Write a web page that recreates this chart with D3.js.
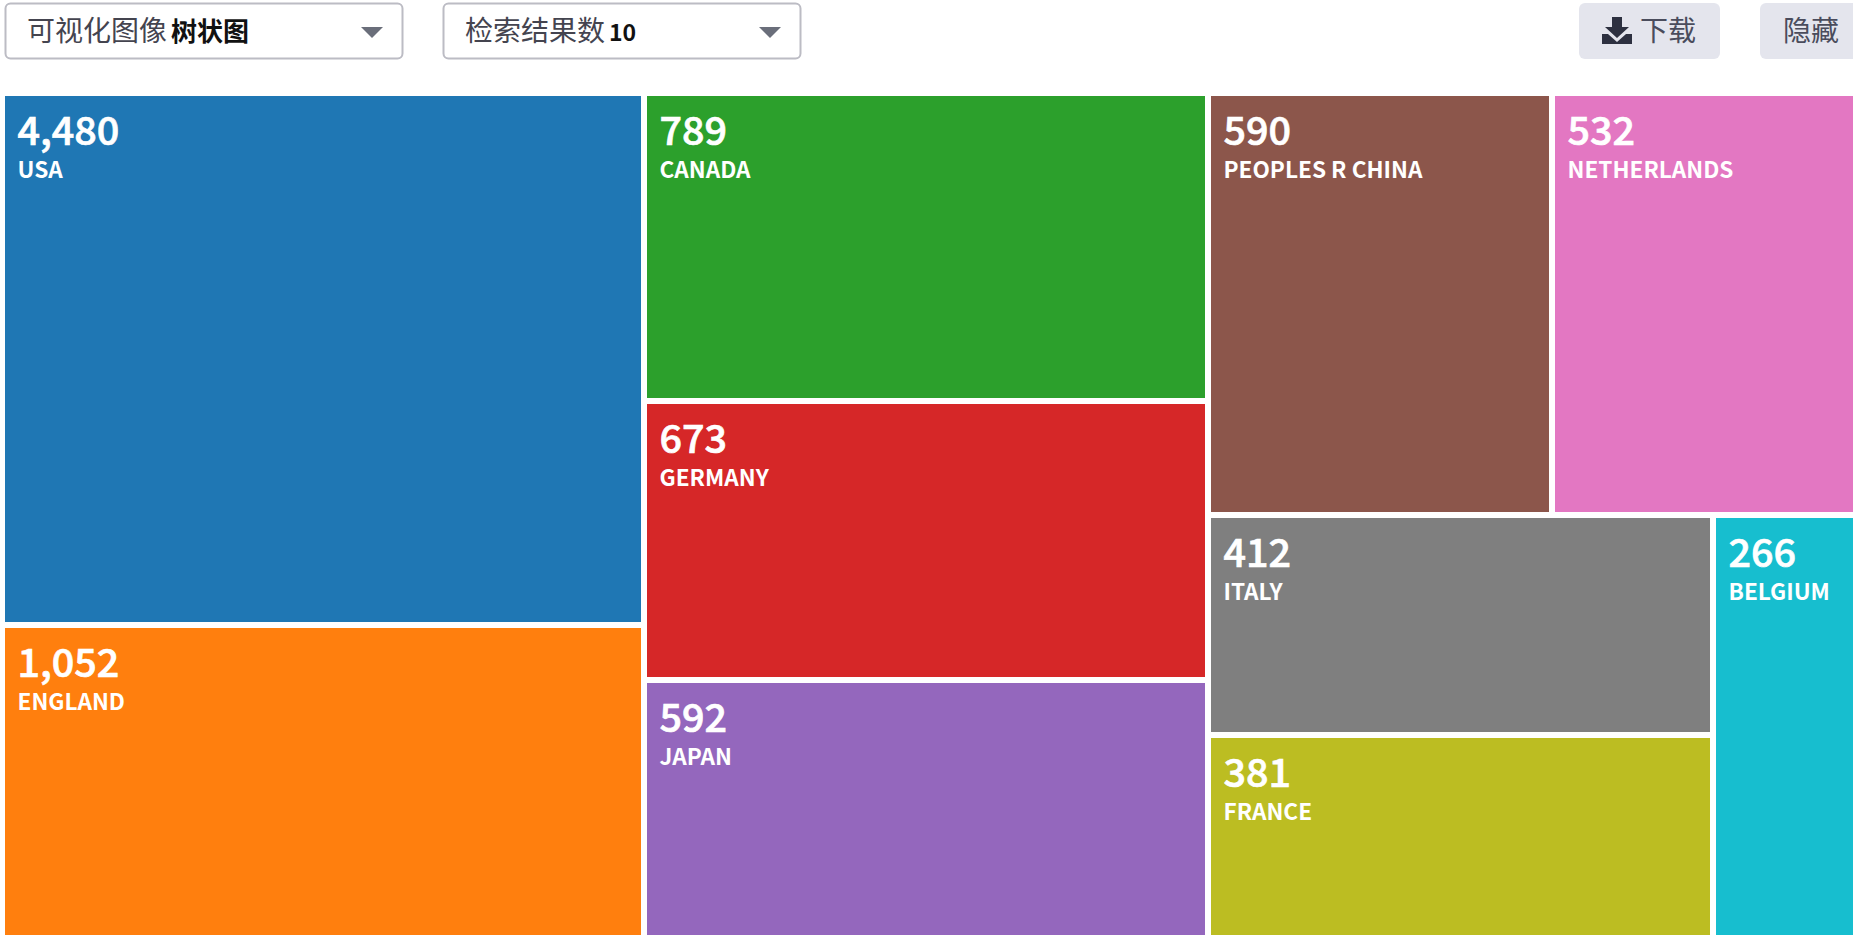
<!DOCTYPE html>
<html>
<head>
<meta charset="utf-8">
<style>
  html, body { margin: 0; padding: 0; background: #fff; overflow: hidden; }
  svg { display: block; }
  text { font-family: "Noto Sans CJK SC", "Noto Sans", sans-serif; }
</style>
</head>
<body>
<div id="container"></div>
<script src="https://cdn.jsdelivr.net/npm/d3@7"></script>
<script>
/* DATA */
const countries = ["USA", "ENGLAND", "CANADA", "GERMANY", "JAPAN", "PEOPLES R CHINA", "NETHERLANDS", "ITALY", "FRANCE", "BELGIUM"]
const counts = [4480, 1052, 789, 673, 592, 590, 532, 412, 381, 266]

// the cell areas in the picture are not proportional to the counts,
// so the tile weights are read off the picture separately
const tileWeights = [341544, 242676, 173712, 157356, 182172, 145168, 138416, 111100, 135340, 81496]

const dropdowns = [
  { label: "可视化图像", value: "树状图" },
  { label: "检索结果数", value: "10" }
]
const buttons = ["下载", "隐藏"]

/* CONSTANTS */
const width = 1853,
  height = 935,
  chart = { left: 5, top: 96, right: 1877, bottom: 1000 },
  gap = 6

const formatCount = d3.format(",")

const svg = d3.select("#container")
  .append("svg")
  .attr("width", width)
  .attr("height", height)

/* TOOLBAR */
const dropX = [5, 443], dropW = [397, 357], dropValueSize = [26, 23]

const drop = svg.selectAll(".drop")
  .data(dropdowns)
  .join("g")
  .attr("class", "drop")
  .attr("transform", (d, i) => `translate(${dropX[i]}, 3)`)

drop.append("rect")
  .attr("x", 0.5).attr("y", 0.5)
  .attr("width", (d, i) => dropW[i])
  .attr("height", 55)
  .attr("rx", 5)
  .attr("fill", "#fff")
  .attr("stroke", "#bcbcc4")
  .attr("stroke-width", 2)

const dropText = drop.append("text")
  .attr("x", 22)
  .attr("y", 38)
  .attr("font-size", 28)

dropText.append("tspan")
  .attr("fill", "#44444f")
  .text(d => d.label)

dropText.append("tspan")
  .attr("dx", 4)
  .attr("font-size", (d, i) => dropValueSize[i])
  .attr("font-weight", 700)
  .attr("fill", "#111")
  .text(d => d.value)

drop.append("path")
  .attr("transform", (d, i) => `translate(${dropW[i] - 41}, 24)`)
  .attr("d", "M0,0 H22 L11,11 Z")
  .attr("fill", "#6a6e7a")

const buttonX = [1579, 1760], buttonW = [141, 130]

const button = svg.selectAll(".btn")
  .data(buttons)
  .join("g")
  .attr("class", "btn")
  .attr("transform", (d, i) => `translate(${buttonX[i]}, 3)`)

button.append("rect")
  .attr("width", (d, i) => buttonW[i])
  .attr("height", 56)
  .attr("rx", 6)
  .attr("fill", "#e4e5ed")

button.append("text")
  .attr("x", (d, i) => i == 0 ? 61 : 23)
  .attr("y", 38)
  .attr("font-size", 28)
  .attr("fill", "#4a4c5c")
  .text(d => d)

// download icon
svg.append("path")
  .attr("transform", "translate(1602, 17)")
  .attr("fill", "#2d3040")
  .attr("d", "M10,0 H20 V10 H27 L15,21 L3,10 H10 Z M0,17 H6 L15,25 L24,17 H30 V27 H0 Z")

/* TREEMAP */
const weightOf = d3.scaleOrdinal(countries, tileWeights)
const cells = countries.map((name, i) => ({ name, count: counts[i] }))

// columns and rows as they are nested in the picture
const tree = {
  children: [
    { split: "slice", children: cells.slice(0, 2) },
    { split: "slice", children: cells.slice(2, 5) },
    {
      split: "slice", children: [
        { split: "dice", children: cells.slice(5, 7) },
        {
          split: "dice", children: [
            { split: "slice", children: cells.slice(7, 9) },
            cells[9]
          ]
        }
      ]
    }
  ]
}

const root = d3.hierarchy(tree)
  .sum(d => d.children ? 0 : weightOf(d.name))

d3.treemap()
  .size([chart.right - chart.left, chart.bottom - chart.top])
  .paddingInner(gap)
  .tile((node, x0, y0, x1, y1) => {
    (node.data.split == "slice" ? d3.treemapSlice : d3.treemapDice)(node, x0, y0, x1, y1)
  })(root)

const colorScale = d3.scaleOrdinal(countries, d3.schemeCategory10)

const cell = svg.append("g")
  .attr("transform", `translate(${chart.left}, ${chart.top})`)
  .selectAll("g")
  .data(root.leaves())
  .join("g")
  .attr("transform", d => `translate(${d.x0}, ${d.y0})`)

cell.append("rect")
  .attr("width", d => d.x1 - d.x0)
  .attr("height", d => d.y1 - d.y0)
  .attr("fill", d => colorScale(d.data.name))

// thin stroke because the numbers sit between regular and bold in the picture
cell.append("text")
  .attr("x", 12.5)
  .attr("y", 49)
  .attr("font-size", 39.5)
  .attr("font-weight", 500)
  .attr("fill", "#fff")
  .attr("stroke", "#fff")
  .attr("stroke-width", 0.7)
  .text(d => formatCount(d.data.count))

cell.append("text")
  .attr("x", 12.5)
  .attr("y", 82)
  .attr("font-size", 22.6)
  .attr("font-weight", 700)
  .attr("fill", "#fff")
  .text(d => d.data.name)
</script>
</body>
</html>
